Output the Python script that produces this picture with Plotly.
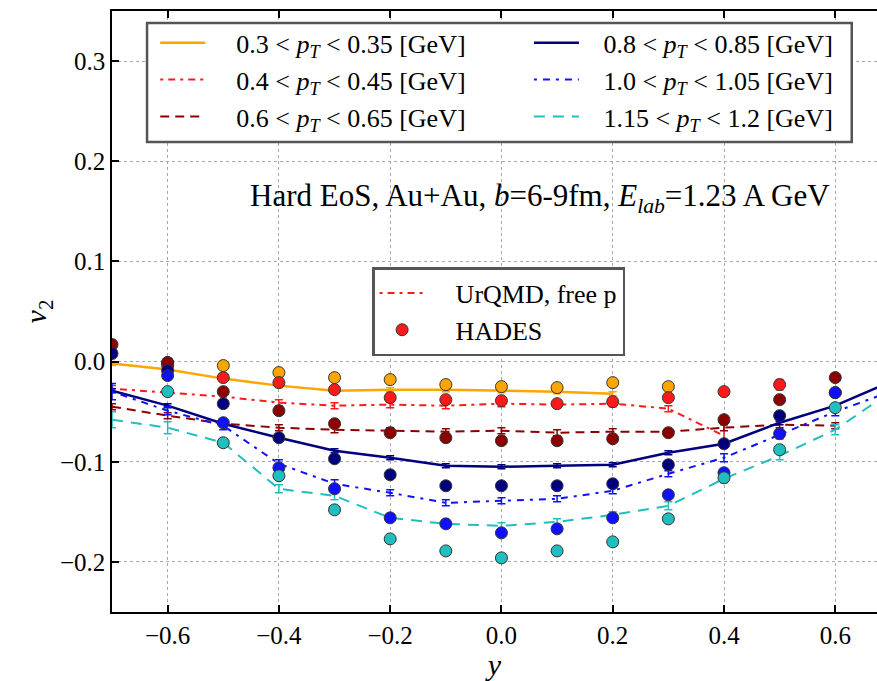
import plotly.graph_objects as go

# ---------------- data ----------------
# UrQMD model curves (rapidity y, v2, error)
x_m_orange = [-0.7, -0.6, -0.5, -0.4, -0.3, -0.2, -0.1, 0.0, 0.1, 0.2]
v_m_orange = [-0.002, -0.008, -0.017, -0.024, -0.029, -0.028, -0.028, -0.029, -0.030, -0.032]
e_m_orange = [0.002] * 10

x_m_red = [-0.7, -0.6, -0.5, -0.4, -0.3, -0.2, -0.1, 0.0, 0.1, 0.2, 0.3, 0.4]
v_m_red = [-0.027, -0.031, -0.035, -0.041, -0.044, -0.043, -0.044, -0.042, -0.043, -0.042, -0.047, -0.074]
e_m_red = [0.003, 0.003, 0.003, 0.003, 0.003, 0.003, 0.003, 0.003, 0.003, 0.003, 0.003, 0.012]

x_m_dred = [-0.7, -0.6, -0.5, -0.4, -0.3, -0.2, -0.1, 0.0, 0.1, 0.2, 0.3, 0.4, 0.5, 0.6]
v_m_dred = [-0.045, -0.054, -0.062, -0.066, -0.068, -0.069, -0.070, -0.069, -0.071, -0.070, -0.070, -0.066, -0.063, -0.064]
e_m_dred = [0.003] * 14

x_m_full = [-0.7, -0.6, -0.5, -0.4, -0.3, -0.2, -0.1, 0.0, 0.1, 0.2, 0.3, 0.4, 0.5, 0.6, 0.7]
v_m_navy = [-0.029, -0.044, -0.062, -0.076, -0.089, -0.096, -0.104, -0.105, -0.104, -0.103, -0.091, -0.082, -0.061, -0.044, -0.020]
e_m_navy = [0.002] * 15
v_m_blue = [-0.030, -0.049, -0.064, -0.102, -0.122, -0.131, -0.141, -0.139, -0.137, -0.129, -0.112, -0.096, -0.073, -0.050, -0.030]
e_m_blue = [0.008, 0.004, 0.004, 0.004, 0.004, 0.003, 0.003, 0.003, 0.003, 0.003, 0.003, 0.004, 0.004, 0.004, 0.008]
v_m_cyan = [-0.058, -0.066, -0.081, -0.127, -0.134, -0.156, -0.162, -0.164, -0.160, -0.153, -0.144, -0.117, -0.094, -0.068, -0.030]
e_m_cyan = [0.008, 0.006, 0.004, 0.004, 0.004, 0.003, 0.003, 0.003, 0.003, 0.003, 0.004, 0.004, 0.004, 0.005, 0.008]

# HADES data points
x_d_orange = [-0.6, -0.5, -0.4, -0.3, -0.2, -0.1, 0.0, 0.1, 0.2, 0.3]
v_d_orange = [-0.001, -0.004, -0.011, -0.016, -0.018, -0.023, -0.025, -0.026, -0.021, -0.025]

x_d_red = [-0.6, -0.5, -0.4, -0.3, -0.2, -0.1, 0.0, 0.1, 0.2, 0.3, 0.4, 0.5]
v_d_red = [-0.004, -0.016, -0.021, -0.028, -0.036, -0.038, -0.039, -0.042, -0.040, -0.036, -0.030, -0.023]
e_d_red = [0.003, 0.003, 0.003, 0.003, 0.003, 0.003, 0.003, 0.003, 0.003, 0.003, 0.003, 0.005]

x_d_long = [-0.7, -0.6, -0.5, -0.4, -0.3, -0.2, -0.1, 0.0, 0.1, 0.2, 0.3, 0.4, 0.5, 0.6]
v_d_dred = [0.017, -0.001, -0.030, -0.049, -0.062, -0.071, -0.076, -0.079, -0.079, -0.077, -0.071, -0.058, -0.038, -0.016]
v_d_navy = [0.008, -0.009, -0.042, -0.076, -0.097, -0.113, -0.124, -0.124, -0.124, -0.122, -0.103, -0.082, -0.054, -0.031]

x_d_short = [-0.6, -0.5, -0.4, -0.3, -0.2, -0.1, 0.0, 0.1, 0.2, 0.3, 0.4, 0.5, 0.6]
v_d_blue = [-0.014, -0.061, -0.106, -0.127, -0.156, -0.162, -0.171, -0.167, -0.156, -0.133, -0.111, -0.072, -0.031]
v_d_cyan = [-0.030, -0.081, -0.114, -0.148, -0.177, -0.189, -0.196, -0.189, -0.180, -0.157, -0.116, -0.088, -0.046]

GAP_L = "&nbsp;" * 4
GAP_R = "&nbsp;" * 3
labels = {
    "orange": GAP_L + "0.3 &lt; <i>p</i><sub><i>T</i></sub> &lt; 0.35 [GeV]",
    "red": GAP_L + "0.4 &lt; <i>p</i><sub><i>T</i></sub> &lt; 0.45 [GeV]",
    "dred": GAP_L + "0.6 &lt; <i>p</i><sub><i>T</i></sub> &lt; 0.65 [GeV]",
    "navy": GAP_R + "0.8 &lt; <i>p</i><sub><i>T</i></sub> &lt; 0.85 [GeV]",
    "blue": GAP_R + "1.0 &lt; <i>p</i><sub><i>T</i></sub> &lt; 1.05 [GeV]",
    "cyan": GAP_R + "1.15 &lt; <i>p</i><sub><i>T</i></sub> &lt; 1.2 [GeV]",
}

colors = {
    "orange": "#FFA500",
    "red": "#FF1A1A",
    "dred": "#8B0000",
    "navy": "#00007F",
    "blue": "#1010FF",
    "cyan": "#1FBFBF",
}
dashes = {
    "orange": "solid",
    "red": "3px,5px,7px,5px",
    "dred": "9px,6px",
    "navy": "solid",
    "blue": "3px,6px,7px,6px",
    "cyan": "11px,8px",
}
widths = {"orange": 2.5, "red": 2, "dred": 2, "navy": 2.5, "blue": 2, "cyan": 2}

FONT = "Liberation Serif"

fig = go.Figure()

models = [
    ("orange", x_m_orange, v_m_orange, e_m_orange, "legend"),
    ("red", x_m_red, v_m_red, e_m_red, "legend"),
    ("dred", x_m_dred, v_m_dred, e_m_dred, "legend"),
    ("navy", x_m_full, v_m_navy, e_m_navy, "legend3"),
    ("blue", x_m_full, v_m_blue, e_m_blue, "legend3"),
    ("cyan", x_m_full, v_m_cyan, e_m_cyan, "legend3"),
]
for key, xs, vs, es, lg in models:
    fig.add_trace(go.Scatter(
        x=xs, y=vs, mode="lines", name=labels[key],
        line=dict(color=colors[key], width=widths[key], dash=dashes[key]),
        error_y=dict(type="data", array=es, color=colors[key], thickness=1.5, width=4),
        legend=lg, legendgroup=key, cliponaxis=True,
    ))

hades = [
    ("orange", x_d_orange, v_d_orange, [0.003] * len(x_d_orange)),
    ("red", x_d_red, v_d_red, e_d_red),
    ("dred", x_d_long, v_d_dred, [0.003] * len(x_d_long)),
    ("navy", x_d_long, v_d_navy, [0.003] * len(x_d_long)),
    ("blue", x_d_short, v_d_blue, [0.003] * len(x_d_short)),
    ("cyan", x_d_short, v_d_cyan, [0.003] * len(x_d_short)),
]
for key, xs, vs, es in hades:
    fig.add_trace(go.Scatter(
        x=xs, y=vs, mode="markers", showlegend=False,
        marker=dict(color=colors[key], size=12, line=dict(color="#333333", width=1)),
        error_y=dict(type="data", array=es, color=colors[key], thickness=1.5, width=4),
    ))

# second legend: generic entries
fig.add_trace(go.Scatter(
    x=[None], y=[None], mode="lines", name=GAP_L + "UrQMD, free p",
    line=dict(color="#FF1A1A", width=2, dash="3px,5px,7px,5px"),
    legend="legend2", legendgroup="g_urqmd",
))
fig.add_trace(go.Scatter(
    x=[None], y=[None], mode="markers", name=GAP_L + "HADES",
    marker=dict(color="#FF1A1A", size=12, line=dict(color="#333333", width=1)),
    legend="legend2", legendgroup="g_hades",
))

fig.add_annotation(
    x=0.56, y=0.726, xref="paper", yref="paper", showarrow=False,
    text="Hard EoS, Au+Au, <i>b</i>=6-9fm, <i>E</i><sub><i>lab</i></sub>=1.23 A GeV",
    font=dict(family=FONT, size=31, color="black"),
)

# frame for the two-column legend
fig.add_shape(type="rect", xref="paper", yref="paper",
              x0=0.0458, x1=0.967, y0=0.782, y1=0.980,
              line=dict(color="#555555", width=2.5), fillcolor="white", layer="above")

legend_common = dict(
    font=dict(family=FONT, size=26, color="black"),
    bgcolor="rgba(0,0,0,0)", borderwidth=0,
    xanchor="left", yanchor="top", itemwidth=45,
    tracegroupgap=2, traceorder="normal",
)

fig.update_layout(
    width=877, height=681,
    margin=dict(l=112, r=0, t=11, b=69),
    paper_bgcolor="white", plot_bgcolor="white",
    font=dict(family=FONT, size=25, color="black"),
    legend=dict(x=0.0565, y=0.986, **legend_common),
    legend3=dict(x=0.545, y=0.986, **legend_common),
    legend2=dict(
        x=0.340, y=0.574, xanchor="left", yanchor="top",
        font=dict(family=FONT, size=26, color="black"),
        bgcolor="white", bordercolor="#555555", borderwidth=2.5,
        itemwidth=45, tracegroupgap=0,
    ),
    xaxis=dict(
        range=[-0.7, 0.675], tickvals=[-0.6, -0.4, -0.2, 0.0, 0.2, 0.4, 0.6],
        ticktext=["\u22120.6", "\u22120.4", "\u22120.2", "0.0", "0.2", "0.4", "0.6"],
        showgrid=True, gridcolor="#a8a8a8", griddash="dot", gridwidth=1,
        showline=True, linecolor="black", linewidth=1.5, mirror="ticks",
        ticks="inside", ticklen=7, tickcolor="black", tickwidth=1.5,
        zeroline=False, tickfont=dict(family=FONT, size=25),
        title=dict(text="<i>y</i>", font=dict(family=FONT, size=30), standoff=8),
    ),
    yaxis=dict(
        range=[-0.25, 0.35], tickvals=[-0.2, -0.1, 0.0, 0.1, 0.2, 0.3],
        ticktext=["\u22120.2", "\u22120.1", "0.0", "0.1", "0.2", "0.3"],
        showgrid=True, gridcolor="#a8a8a8", griddash="dot", gridwidth=1,
        showline=True, linecolor="black", linewidth=1.5, mirror=False,
        ticks="inside", ticklen=7, tickcolor="black", tickwidth=1.5,
        zeroline=False, tickfont=dict(family=FONT, size=25),
        title=dict(text="<i>v</i><sub>2</sub>", font=dict(family=FONT, size=30), standoff=4),
    ),
)

fig.write_html("out.html")
